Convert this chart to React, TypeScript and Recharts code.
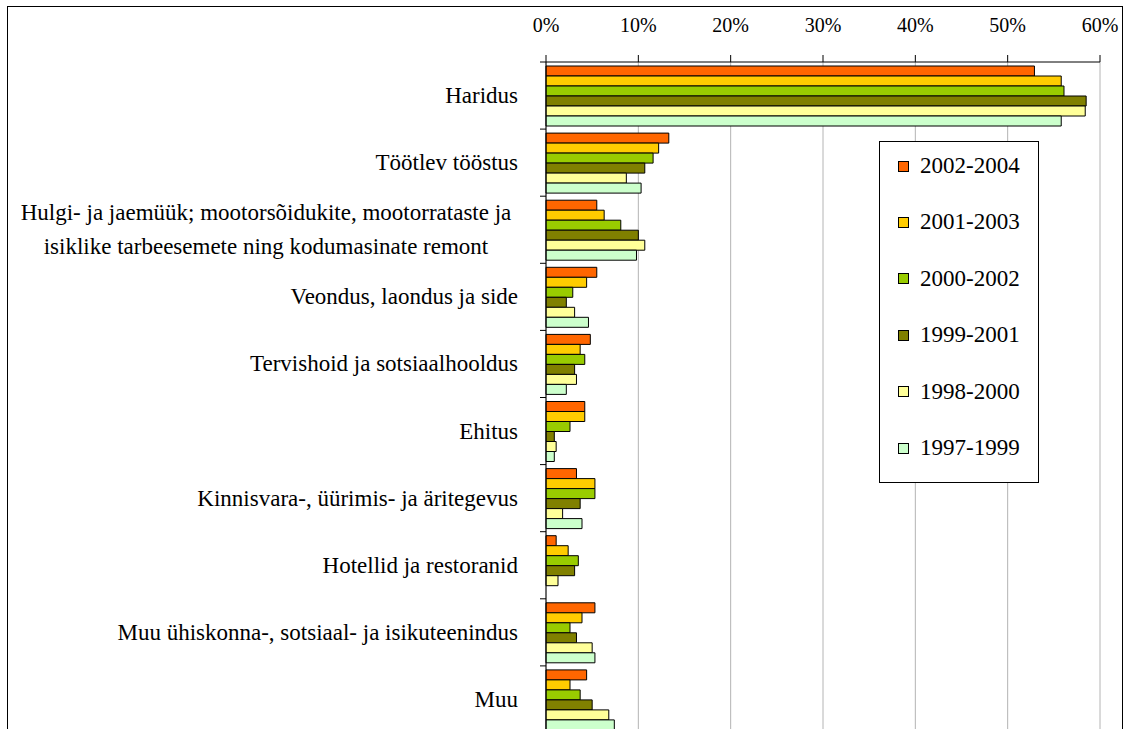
import { BarChart, Bar, XAxis, YAxis, CartesianGrid } from 'recharts';

const categories = [
  'Haridus',
  'Töötlev tööstus',
  'Hulgi- ja jaemüük; mootorsõidukite, mootorrataste ja\nisiklike tarbeesemete ning kodumasinate remont',
  'Veondus, laondus ja side',
  'Tervishoid ja sotsiaalhooldus',
  'Ehitus',
  'Kinnisvara-, üürimis- ja äritegevus',
  'Hotellid ja restoranid',
  'Muu ühiskonna-, sotsiaal- ja isikuteenindus',
  'Muu',
];

const seriesNames = ['2002-2004', '2001-2003', '2000-2002', '1999-2001', '1998-2000', '1997-1999'];
const seriesColors = ['#FF6600', '#FFCC00', '#99CC00', '#808000', '#FFFF99', '#CCFFCC'];

const v2002_2004 = [52.9, 13.3, 5.5, 5.5, 4.8, 4.2, 3.3, 1.1, 5.3, 4.4];
const v2001_2003 = [55.8, 12.2, 6.3, 4.4, 3.7, 4.2, 5.3, 2.4, 3.9, 2.6];
const v2000_2002 = [56.1, 11.6, 8.1, 2.9, 4.2, 2.6, 5.3, 3.5, 2.6, 3.7];
const v1999_2001 = [58.5, 10.7, 10.0, 2.2, 3.1, 0.9, 3.7, 3.1, 3.3, 5.0];
const v1998_2000 = [58.4, 8.7, 10.7, 3.1, 3.3, 1.1, 1.8, 1.3, 5.0, 6.8];
const v1997_1999 = [55.8, 10.3, 9.8, 4.6, 2.2, 0.9, 3.9, 0, 5.3, 7.4];

const xTicks = [0, 10, 20, 30, 40, 50, 60];

const seriesValues = [v2002_2004, v2001_2003, v2000_2002, v1999_2001, v1998_2000, v1997_1999];

const data = categories.map((name, i) => {
  const row: Record<string, string | number> = { name };
  seriesNames.forEach((s, k) => {
    row[s] = seriesValues[k][i];
  });
  return row;
});

const FONT = '"Liberation Serif", "Times New Roman", serif';
const PLOT_TOP = 62;
const PLOT_BOTTOM = 733;
const BAND = (PLOT_BOTTOM - PLOT_TOP) / categories.length;
const AXIS_X = 546;
const LABEL_RIGHT = 518;

function CategoryTick(props: any) {
  const { y, payload, index } = props;
  const lines = String(payload.value).split('\n');
  const half = BAND / 2;
  const cx = LABEL_RIGHT - 252;
  return (
    <g>
      <line x1={AXIS_X - 6} x2={AXIS_X} y1={y - half} y2={y - half} stroke="#000" />
      {index === categories.length - 1 && (
        <line x1={AXIS_X - 6} x2={AXIS_X} y1={y + half} y2={y + half} stroke="#000" />
      )}
      {lines.length === 1 ? (
        <text x={LABEL_RIGHT} y={y} textAnchor="end" dominantBaseline="central" fontSize={23} fill="#000" fontFamily={FONT}>
          {lines[0]}
        </text>
      ) : (
        <text x={cx} y={y} textAnchor="middle" fontSize={23} fill="#000" fontFamily={FONT}>
          {lines.map((l, i) => (
            <tspan key={i} x={cx} y={y + (i - (lines.length - 1) / 2) * 34} dominantBaseline="central">
              {l}
            </tspan>
          ))}
        </text>
      )}
    </g>
  );
}

function LegendBox() {
  return (
    <div
      style={{
        position: 'absolute',
        left: 879,
        top: 141,
        width: 158,
        height: 340,
        border: '1px solid #000',
        background: '#fff',
        fontFamily: FONT,
        fontSize: 23,
        color: '#000',
      }}
    >
      {seriesNames.map((s, i) => (
        <div
          key={s}
          style={{
            position: 'absolute',
            left: 18,
            top: 11 + i * 56.4,
            height: 26,
            display: 'flex',
            alignItems: 'center',
            whiteSpace: 'nowrap',
          }}
        >
          <span
            style={{
              display: 'inline-block',
              width: 9,
              height: 9,
              background: seriesColors[i],
              border: '1px solid #000',
              marginRight: 11,
            }}
          />
          {s}
        </div>
      ))}
    </div>
  );
}

export default function App() {
  return (
    <div style={{ position: 'absolute', left: 0, top: 0, width: 1129, height: 760, background: '#fff', overflow: 'hidden' }}>
      <div
        style={{
          position: 'absolute',
          left: 7,
          top: 6,
          width: 1114,
          height: 760,
          border: '1px solid #000',
        }}
      />
      <div style={{ position: 'absolute', left: 0, top: 0 }}>
        <BarChart
          width={1129}
          height={PLOT_BOTTOM + 5}
          data={data}
          layout="vertical"
          margin={{ top: PLOT_TOP - 30, right: 1129 - 1100, bottom: 5, left: 8 }}
          barCategoryGap={4}
          barGap={0}
          style={{ fontFamily: FONT }}
        >
          <CartesianGrid horizontal={false} stroke="#b4b4b4" />
          <XAxis
            type="number"
            orientation="top"
            domain={[0, 60]}
            ticks={xTicks}
            tickFormatter={(v) => `${v}%`}
            height={30}
            tickSize={7}
            tickMargin={23}
            axisLine={{ stroke: '#000' }}
            tickLine={{ stroke: '#000' }}
            tick={{ fill: '#000', fontSize: 20, fontFamily: FONT }}
            interval={0}
          />
          <YAxis
            type="category"
            dataKey="name"
            width={AXIS_X - 8}
            axisLine={{ stroke: '#000' }}
            tickLine={false}
            tick={<CategoryTick />}
            interval={0}
          />
          {seriesNames.map((s, k) => (
            <Bar
              key={s}
              dataKey={s}
              name={s}
              fill={seriesColors[k]}
              stroke="#000"
              strokeWidth={1}
              isAnimationActive={false}
            />
          ))}
        </BarChart>
      </div>
      <LegendBox />
    </div>
  );
}
